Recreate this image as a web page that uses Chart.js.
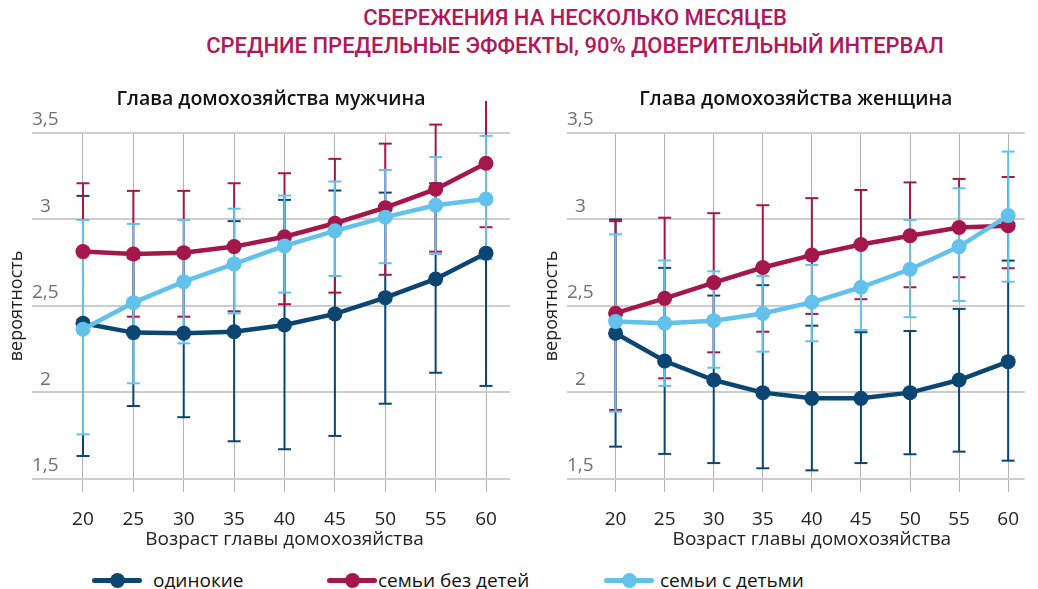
<!DOCTYPE html>
<html>
<head>
<meta charset="utf-8">
<script src="https://cdn.jsdelivr.net/npm/chart.js@4.4.1/dist/chart.umd.min.js"></script>
<style>
  html, body { margin: 0; padding: 0; background: #fff; }
  body { width: 1038px; height: 589px; position: relative; overflow: hidden; font-family: "Open Sans", sans-serif; }
  .title { position: absolute; left: 0; top: 4px; width: 1150px; text-align: center;
           color: #b0185b; font-family: Roboto, sans-serif; font-weight: 500; font-size: 22px; line-height: 28px; white-space: nowrap; }
  canvas { position: absolute; }
  .leg { position: absolute; top: 568px; height: 24px; font-size: 19px; color: #111; line-height: 24px; white-space: nowrap; }
  .leg i { position: absolute; top: 10px; left: 0; width: 50px; height: 5px; border-radius: 3px; }
  .leg i::after { content: ""; position: absolute; left: 18px; top: -5px; width: 15px; height: 15px; border-radius: 50%; background: inherit; }
  .leg span { position: absolute; top: 0; }
</style>
</head>
<body>
<div class="title">СБЕРЕЖЕНИЯ НА НЕСКОЛЬКО МЕСЯЦЕВ<br>СРЕДНИЕ ПРЕДЕЛЬНЫЕ ЭФФЕКТЫ, 90% ДОВЕРИТЕЛЬНЫЙ ИНТЕРВАЛ</div>
<canvas id="male" width="520" height="480" style="left:0;top:75px"></canvas>
<canvas id="female" width="503" height="480" style="left:535px;top:75px"></canvas>
<div id="legend"></div>
<script>
// age of household head
const ages = [20, 25, 30, 35, 40, 45, 50, 55, 60];
const yTicks = [1.5, 2, 2.5, 3, 3.5];
const yTickLabels = ['1,5', '2', '2,5', '3', '3,5'];
const seriesNames = ['одинокие', 'семьи без детей', 'семьи с детьми'];

// male head of household
const maleSingle   = [2.40, 2.346, 2.342, 2.351, 2.39, 2.454, 2.548, 2.656, 2.805];
const maleSingleLo = [1.633, 1.922, 1.857, 1.718, 1.672, 1.749, 1.935, 2.114, 2.038];
const maleSingleHi = [3.136, 2.776, 2.80, 2.99, 3.113, 3.167, 3.155, 3.209, 3.569];
const maleNoKids   = [2.814, 2.80, 2.808, 2.843, 2.90, 2.978, 3.068, 3.175, 3.325];
const maleNoKidsLo = [2.42, 2.438, 2.438, 2.469, 2.51, 2.577, 2.68, 2.814, 2.955];
const maleNoKidsHi = [3.209, 3.165, 3.165, 3.209, 3.267, 3.35, 3.438, 3.548, 3.685];
const maleKids     = [2.365, 2.519, 2.64, 2.743, 2.847, 2.934, 3.013, 3.082, 3.118];
const maleKidsLo   = [1.758, 2.053, 2.284, 2.457, 2.577, 2.673, 2.747, 2.80, 2.77];
const maleKidsHi   = [2.997, 2.974, 2.997, 3.062, 3.138, 3.219, 3.286, 3.36, 3.483];

// female head of household
const femSingle   = [2.342, 2.182, 2.072, 1.999, 1.966, 1.966, 1.999, 2.072, 2.178];
const femSingleLo = [1.687, 1.645, 1.592, 1.562, 1.55, 1.592, 1.643, 1.658, 1.606];
const femSingleHi = [3.0, 2.72, 2.56, 2.62, 2.386, 2.348, 2.355, 2.483, 2.762];
const femNoKids   = [2.458, 2.544, 2.635, 2.722, 2.794, 2.855, 2.906, 2.953, 2.964];
const femNoKidsLo = [1.899, 2.082, 2.232, 2.351, 2.454, 2.539, 2.608, 2.666, 2.718];
const femNoKidsHi = [2.99, 3.01, 3.036, 3.082, 3.123, 3.17, 3.214, 3.234, 3.245];
const femKids     = [2.41, 2.40, 2.415, 2.456, 2.521, 2.608, 2.712, 2.843, 3.022];
const femKidsLo   = [1.889, 2.038, 2.143, 2.236, 2.296, 2.361, 2.435, 2.529, 2.64];
const femKidsHi   = [2.914, 2.763, 2.70, 2.673, 2.737, 2.86, 2.997, 3.18, 3.392];

const colors = ['#0b4571', '#a5164b', '#62c2ec'];
const FONT = '"Open Sans", sans-serif';

function pts(vals) {
  return ages.map((a, i) => ({ x: a, y: vals[i] }));
}

// low/high pairs split by gaps, caps drawn as 'line' points
function errPts(lo, hi) {
  const out = [];
  ages.forEach((a, i) => {
    out.push({ x: a, y: lo[i] }, { x: a, y: hi[i] }, { x: a, y: null });
  });
  return out;
}

function lineDs(vals, c, order) {
  return {
    data: pts(vals), borderColor: c, backgroundColor: c, borderWidth: 4.5, clip: false,
    pointRadius: 7.5, pointBackgroundColor: c, pointBorderWidth: 0, order: order
  };
}

function errDs(lo, hi, c, order) {
  return {
    data: errPts(lo, hi), borderColor: c, borderWidth: 2, spanGaps: false, clip: false,
    pointStyle: 'line', pointRadius: 6.5, pointBorderColor: c, pointBorderWidth: 2, order: order
  };
}

// x axis title centred on the age range
const xTitle = {
  id: 'xTitle',
  afterDraw(chart) {
    const x = chart.scales.x;
    const ctx = chart.ctx;
    ctx.save();
    ctx.font = '19px ' + FONT;
    ctx.fillStyle = '#222';
    ctx.textAlign = 'center';
    ctx.textBaseline = 'middle';
    ctx.fillText('Возраст главы домохозяйства', x.getPixelForValue(40), 465);
    ctx.restore();
  }
};

function makeChart(id, title, s, n, k, xMin, xMax, padRight) {
  new Chart(document.getElementById(id), {
    type: 'line',
    data: {
      datasets: [
        lineDs(k[0], colors[2], 0),
        lineDs(n[0], colors[1], 1),
        lineDs(s[0], colors[0], 2),
        errDs(k[1], k[2], colors[2], 3),
        errDs(n[1], n[2], colors[1], 4),
        errDs(s[1], s[2], colors[0], 5)
      ]
    },
    options: {
      responsive: false,
      animation: false,
      events: [],
      layout: { padding: { left: 2.4, right: padRight, top: 0, bottom: 0 } },
      plugins: {
        legend: { display: false },
        tooltip: { enabled: false },
        title: {
          display: true, text: title, color: '#111', fullSize: false,
          font: { family: FONT, size: 19.5, weight: '600' },
          padding: { top: 13, bottom: 21.5 }
        }
      },
      scales: {
        x: {
          type: 'linear', min: xMin, max: xMax,
          afterBuildTicks: ax => { ax.ticks = ages.map(v => ({ value: v })); },
          afterFit: ax => { ax.height = 76; },
          border: { display: false },
          grid: { color: '#b4b4b4', lineWidth: 1, drawTicks: true, tickLength: 13, tickColor: '#b4b4b4' },
          ticks: { color: '#222', padding: 18.5, font: { family: FONT, size: 19, lineHeight: 1 } }
        },
        y: {
          min: 1.5, max: 3.5,
          afterBuildTicks: ax => { ax.ticks = yTicks.map(v => ({ value: v })); },
          border: { display: false },
          grid: { color: '#cdcdcd', lineWidth: 2, drawTicks: false },
          ticks: {
            mirror: true, padding: 0, crossAlign: 'center', labelOffset: -13,
            color: '#707070', font: { family: FONT, size: 19 },
            callback: v => yTickLabels[yTicks.indexOf(v)]
          },
          title: {
            display: true, text: 'вероятность', color: '#222',
            font: { family: FONT, size: 18 }, padding: { top: 4, bottom: 4 }
          }
        }
      }
    },
    plugins: [xTitle]
  });
}

makeChart('male', 'Глава домохозяйства мужчина',
  [maleSingle, maleSingleLo, maleSingleHi],
  [maleNoKids, maleNoKidsLo, maleNoKidsHi],
  [maleKids, maleKidsLo, maleKidsHi], 14.94, 62.38, 10);

makeChart('female', 'Глава домохозяйства женщина',
  [femSingle, femSingleLo, femSingleHi],
  [femNoKids, femNoKidsLo, femNoKidsHi],
  [femKids, femKidsLo, femKidsHi], 15.05, 61.68, 0);

// legend
const legPos = [[92, 153], [327, 378], [604, 660]];
const legend = document.getElementById('legend');
seriesNames.forEach((name, i) => {
  const d = document.createElement('div');
  d.className = 'leg';
  d.style.left = legPos[i][0] + 'px';
  d.innerHTML = '<i style="background:' + colors[i] + '"></i><span style="left:' +
    (legPos[i][1] - legPos[i][0]) + 'px">' + name + '</span>';
  legend.appendChild(d);
});
</script>
</body>
</html>
